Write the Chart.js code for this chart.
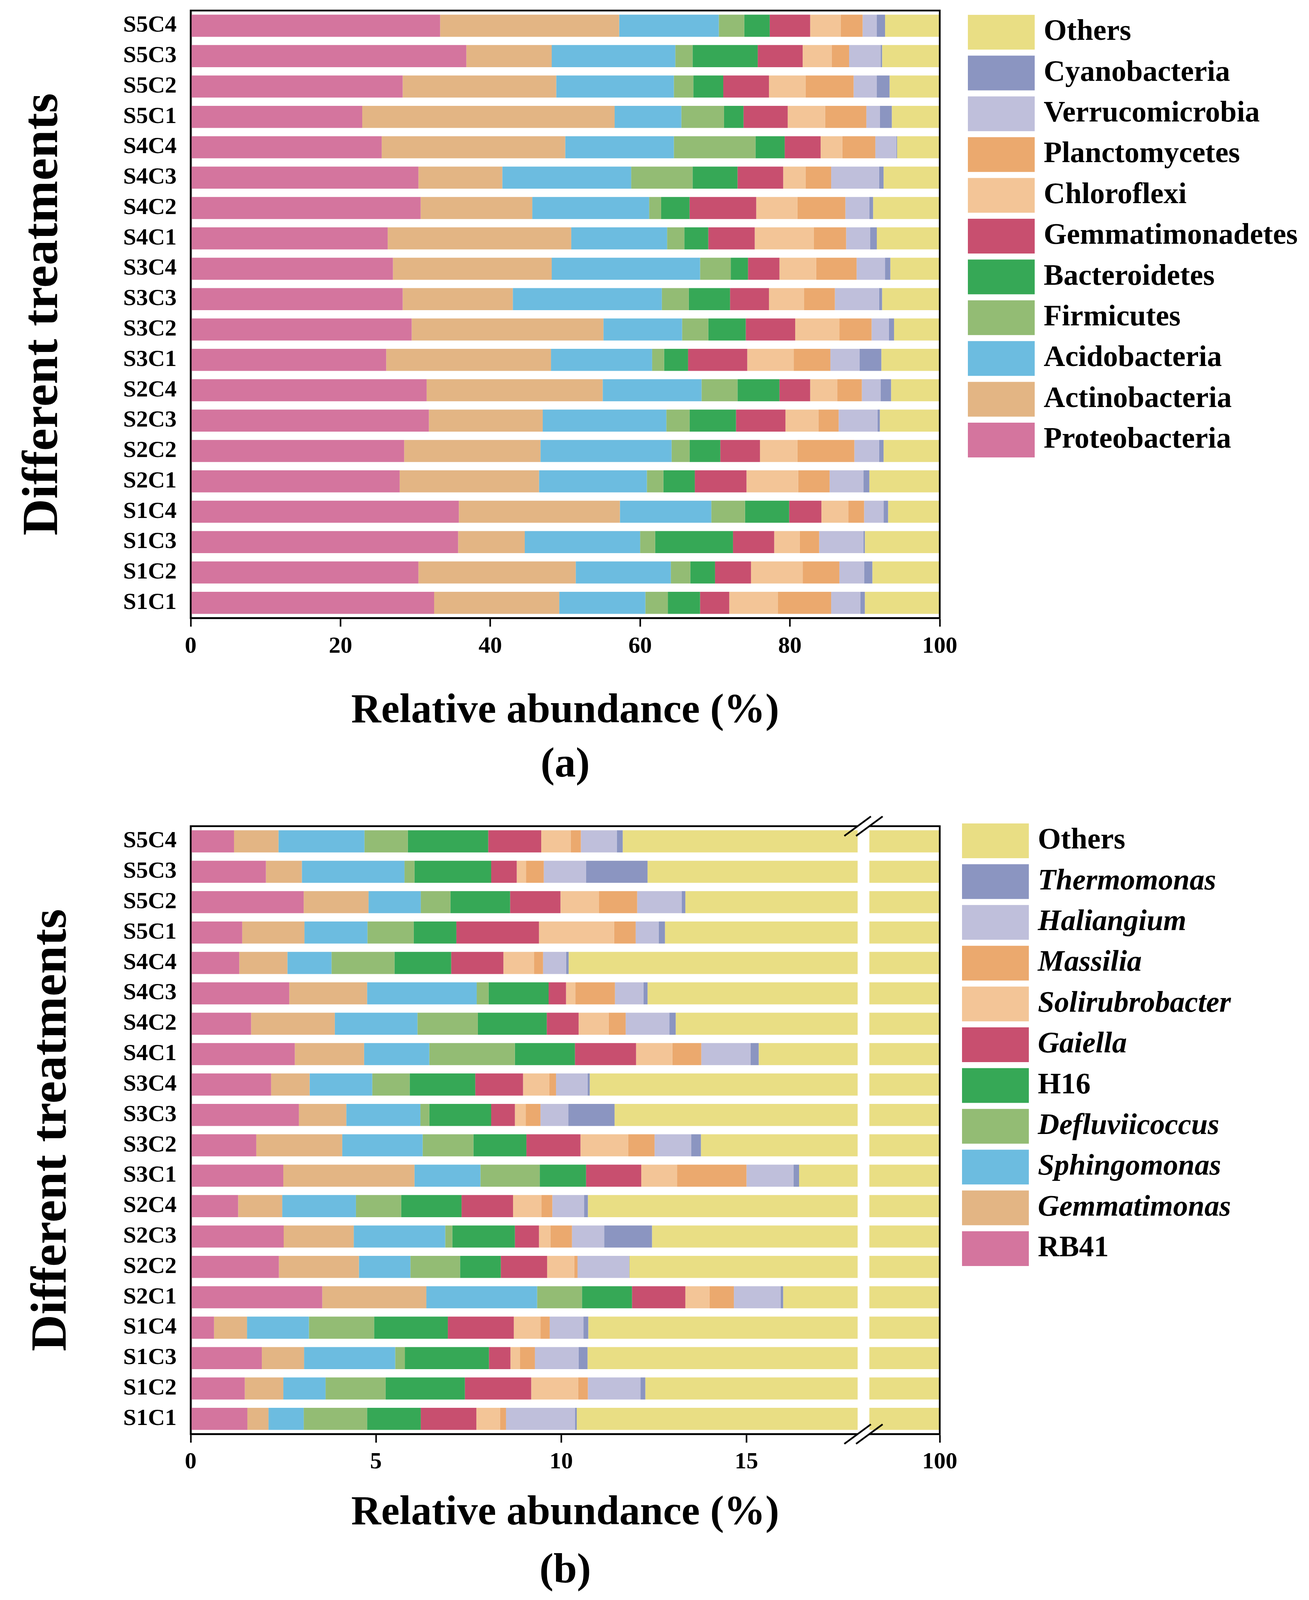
<!DOCTYPE html>
<html>
<head>
<meta charset="utf-8">
<script src="https://cdn.jsdelivr.net/npm/chart.js@4.4.1/dist/chart.umd.min.js"></script>
<style>
  html, body { margin: 0; padding: 0; background: #fff; }
  canvas { display: block; }
</style>
</head>
<body>
<canvas id="chartA" width="3350" height="2050"></canvas>
<canvas id="chartB" width="3350" height="2047"></canvas>
<script>
const treatments = ['S5C4', 'S5C3', 'S5C2', 'S5C1', 'S4C4', 'S4C3', 'S4C2', 'S4C1', 'S3C4', 'S3C3',
  'S3C2', 'S3C1', 'S2C4', 'S2C3', 'S2C2', 'S2C1', 'S1C4', 'S1C3', 'S1C2', 'S1C1'];

// (a) phylum level, relative abundance %
const proteobacteria   = [33.3, 36.8, 28.3, 22.9, 25.5, 30.4, 30.7, 26.3, 27.0, 28.3, 29.5, 26.1, 31.5, 31.8, 28.5, 27.9, 35.8, 35.7, 30.4, 32.5];
const actinobacteria   = [23.9, 11.4, 20.5, 33.7, 24.5, 11.2, 14.9, 24.5, 21.2, 14.7, 25.6, 22.0, 23.5, 15.2, 18.2, 18.6, 21.5, 8.9, 21.0, 16.7];
const acidobacteria    = [13.3, 16.5, 15.7, 8.9, 14.5, 17.2, 15.6, 12.8, 19.8, 19.9, 10.5, 13.5, 13.2, 16.5, 17.5, 14.4, 12.2, 15.4, 12.7, 11.5];
const firmicutes       = [3.4, 2.3, 2.6, 5.7, 10.9, 8.2, 1.6, 2.3, 4.1, 3.6, 3.5, 1.6, 4.8, 3.1, 2.4, 2.2, 4.5, 2.0, 2.6, 3.0];
const bacteroidetes    = [3.4, 8.7, 4.0, 2.6, 3.9, 6.0, 3.8, 3.2, 2.3, 5.5, 5.0, 3.2, 5.6, 6.2, 4.1, 4.2, 5.9, 10.4, 3.3, 4.3];
const gemmatimonadetes = [5.4, 6.0, 6.1, 5.9, 4.8, 6.1, 8.9, 6.2, 4.2, 5.2, 6.6, 7.9, 4.1, 6.6, 5.3, 6.9, 4.3, 5.5, 4.8, 3.9];
const chloroflexi      = [4.1, 3.9, 4.9, 5.0, 2.9, 3.0, 5.5, 7.9, 4.9, 4.7, 5.9, 6.2, 3.6, 4.4, 5.0, 6.9, 3.6, 3.4, 6.9, 6.5];
const planctomycetes   = [2.9, 2.3, 6.4, 5.5, 4.4, 3.4, 6.4, 4.3, 5.4, 4.1, 4.3, 4.9, 3.3, 2.7, 7.6, 4.2, 2.1, 2.6, 4.9, 7.1];
const verrucomicrobia  = [1.9, 4.2, 3.1, 1.8, 2.8, 6.4, 3.2, 3.2, 3.8, 5.9, 2.3, 3.9, 2.5, 5.2, 3.3, 4.5, 2.6, 5.9, 3.3, 3.9];
const cyanobacteria    = [1.1, 0.2, 1.7, 1.6, 0.1, 0.6, 0.5, 0.9, 0.7, 0.4, 0.7, 2.9, 1.4, 0.3, 0.6, 0.8, 0.6, 0.2, 1.1, 0.6];
const othersPhylum     = [7.3, 7.7, 6.7, 6.4, 5.7, 7.5, 8.9, 8.4, 6.6, 7.7, 6.1, 7.8, 6.5, 8.0, 7.5, 9.4, 6.9, 10.0, 9.0, 10.0];

// (b) genus level, relative abundance %
const rb41            = [1.17, 2.03, 3.05, 1.39, 1.31, 2.66, 1.63, 2.81, 2.17, 2.92, 1.77, 2.50, 1.28, 2.51, 2.38, 3.55, 0.63, 1.92, 1.46, 1.53];
const gemmatimonas    = [1.20, 0.97, 1.75, 1.68, 1.30, 2.10, 2.26, 1.87, 1.04, 1.28, 2.32, 3.54, 1.19, 1.89, 2.16, 2.81, 0.89, 1.14, 1.04, 0.57];
const sphingomonas    = [2.32, 2.77, 1.41, 1.70, 1.19, 2.96, 2.23, 1.76, 1.69, 2.00, 2.17, 1.78, 1.99, 2.47, 1.39, 2.99, 1.67, 2.46, 1.14, 0.95];
const defluviicoccus  = [1.17, 0.27, 0.80, 1.25, 1.70, 0.32, 1.63, 2.31, 1.01, 0.24, 1.37, 1.60, 1.22, 0.19, 1.34, 1.21, 1.76, 0.26, 1.62, 1.71];
const h16             = [2.17, 2.07, 1.61, 1.15, 1.53, 1.62, 1.86, 1.62, 1.77, 1.67, 1.43, 1.25, 1.63, 1.69, 1.10, 1.35, 1.99, 2.27, 2.14, 1.45];
const gaiella         = [1.43, 0.69, 1.36, 2.23, 1.41, 0.47, 0.86, 1.65, 1.29, 0.64, 1.46, 1.49, 1.39, 0.65, 1.25, 1.44, 1.78, 0.58, 1.79, 1.50];
const solirubrobacter = [0.80, 0.25, 1.04, 2.03, 0.83, 0.25, 0.81, 0.98, 0.71, 0.29, 1.29, 0.97, 0.77, 0.31, 0.73, 0.65, 0.72, 0.26, 1.27, 0.64];
const massilia        = [0.27, 0.48, 1.03, 0.58, 0.24, 1.07, 0.46, 0.78, 0.18, 0.40, 0.71, 1.87, 0.29, 0.58, 0.09, 0.66, 0.25, 0.40, 0.26, 0.16];
const haliangium      = [0.97, 1.14, 1.20, 0.62, 0.62, 0.77, 1.18, 1.33, 0.85, 0.75, 0.99, 1.27, 0.86, 0.87, 1.39, 1.26, 0.91, 1.18, 1.42, 1.86];
const thermomonas     = [0.16, 1.66, 0.10, 0.17, 0.07, 0.11, 0.17, 0.22, 0.06, 1.25, 0.26, 0.15, 0.10, 1.29, 0.01, 0.07, 0.13, 0.24, 0.13, 0.05];
const othersGenus     = [88.35, 87.67, 86.66, 87.19, 89.80, 87.66, 86.91, 84.68, 89.24, 88.56, 86.22, 83.58, 89.28, 87.55, 88.16, 84.00, 89.27, 89.28, 87.73, 89.58];

const phylumNames = ['Proteobacteria', 'Actinobacteria', 'Acidobacteria', 'Firmicutes', 'Bacteroidetes',
  'Gemmatimonadetes', 'Chloroflexi', 'Planctomycetes', 'Verrucomicrobia', 'Cyanobacteria', 'Others'];
const phylumSeries = [proteobacteria, actinobacteria, acidobacteria, firmicutes, bacteroidetes,
  gemmatimonadetes, chloroflexi, planctomycetes, verrucomicrobia, cyanobacteria, othersPhylum];
const genusNames = ['RB41', 'Gemmatimonas', 'Sphingomonas', 'Defluviicoccus', 'H16',
  'Gaiella', 'Solirubrobacter', 'Massilia', 'Haliangium', 'Thermomonas', 'Others'];
const genusSeries = [rb41, gemmatimonas, sphingomonas, defluviicoccus, h16,
  gaiella, solirubrobacter, massilia, haliangium, thermomonas, othersGenus];

const phylumTicks = [0, 20, 40, 60, 80, 100];
const genusTicks = [0, 5, 10, 15, 100];

const colors = ['#D4759E', '#E3B584', '#6CBCE0', '#93BC74', '#36A856', '#C84F6F',
  '#F3C597', '#EBA96E', '#BFBFDB', '#8B95C1', '#E9DE84'];
const italicNames = new Set(['Gemmatimonas', 'Sphingomonas', 'Defluviicoccus', 'Gaiella',
  'Solirubrobacter', 'Massilia', 'Haliangium', 'Thermomonas']);

const FONT = '"Liberation Serif", "Times New Roman", serif';
Chart.defaults.font.family = FONT;
Chart.defaults.font.weight = 'bold';
Chart.defaults.color = '#000';

// linear axis with a cut between breakRange[0] and breakRange[1]
class BrokenLinearScale extends Chart.LinearScale {
  static id = 'brokenLinear';
  _toDecimal(v) {
    const [b0, b1] = this.options.breakRange;
    const g = this.options.breakGap / this._length;
    const lo = b0 - this.min, span = lo + (this.max - b1);
    const d = v - this.min;
    if (v <= b0) return d / span * (1 - g);
    if (v >= b1) return (lo + v - b1) / span * (1 - g) + g;
    return lo / span * (1 - g) + (v - b0) / (b1 - b0) * g;
  }
  getPixelForValue(value) {
    if (value === null || value === undefined || isNaN(value)) return NaN;
    return this.getPixelForDecimal(this._toDecimal(value));
  }
  getValueForPixel(pixel) {
    const [b0, b1] = this.options.breakRange;
    const g = this.options.breakGap / this._length;
    const lo = b0 - this.min, span = lo + (this.max - b1);
    const dec = this.getDecimalForPixel(pixel);
    const d0 = lo / span * (1 - g);
    if (dec <= d0) return this.min + dec / (1 - g) * span;
    if (dec >= d0 + g) return b1 + (dec - g) / (1 - g) * span - lo;
    return b0 + (dec - d0) / g * (b1 - b0);
  }
}
Chart.register(BrokenLinearScale);

const framePlugin = {
  id: 'frame',
  afterDatasetsDraw(chart, args, opts) {
    const { ctx, chartArea: a } = chart;
    ctx.save();
    ctx.strokeStyle = '#000';
    ctx.lineWidth = opts.width;
    ctx.strokeRect(a.left, a.top, a.right - a.left, a.bottom - a.top);
    if (opts.cut) {
      const xs = chart.scales.x;
      const x0 = xs.getPixelForValue(opts.cut[0]);
      const x1 = xs.getPixelForValue(opts.cut[1]);
      ctx.fillStyle = '#fff';
      ctx.fillRect(x0, a.top - opts.width, x1 - x0, a.bottom - a.top + 2 * opts.width);
      for (const y of [a.top, a.bottom]) {
        for (const cx of [x0, x1]) {
          ctx.beginPath();
          ctx.moveTo(cx - 34, y + 25);
          ctx.lineTo(cx + 34, y - 25);
          ctx.stroke();
        }
      }
    }
    ctx.restore();
  }
};

const boxLegend = {
  id: 'boxLegend',
  afterDraw(chart, args, opts) {
    const ctx = chart.ctx;
    const items = chart.data.datasets.slice().reverse();
    ctx.save();
    ctx.textBaseline = 'middle';
    items.forEach((ds, i) => {
      const top = opts.top + i * opts.pitch;
      ctx.fillStyle = ds.backgroundColor;
      ctx.fillRect(opts.left, top, opts.boxWidth, opts.boxHeight);
      ctx.fillStyle = '#000';
      ctx.font = (ds.italic ? 'italic ' : '') + 'bold ' + opts.fontSize + 'px ' + FONT;
      ctx.fillText(ds.label, opts.textLeft, top + opts.boxHeight / 2);
    });
    ctx.restore();
  }
};

function buildDatasets(names, series) {
  return names.map((name, i) => ({
    label: name,
    data: series[i],
    backgroundColor: colors[i],
    italic: italicNames.has(name),
    barPercentage: 0.727,
    categoryPercentage: 1
  }));
}

function drawPanel(id, p) {
  const xScale = {
    type: p.xType,
    stacked: true,
    min: 0,
    max: 100,
    afterBuildTicks: s => { s.ticks = p.ticks.map(value => ({ value })); },
    ticks: { font: { size: 60 }, padding: p.tickPad, autoSkip: false, maxRotation: 0, callback: v => v },
    grid: { display: true, drawOnChartArea: false, drawTicks: true, tickLength: 22, tickWidth: 4, tickColor: '#000' },
    border: { display: true, width: 4.5, color: '#000' },
    title: { display: true, text: 'Relative abundance (%)', font: { size: 106 }, padding: { top: p.xTitlePad, bottom: 0 } }
  };
  if (p.cut) {
    xScale.breakRange = p.cut;
    xScale.breakGap = 30;
  }
  return new Chart(document.getElementById(id), {
    type: 'bar',
    data: { labels: treatments, datasets: p.datasets },
    plugins: [framePlugin, boxLegend],
    options: {
      indexAxis: 'y',
      responsive: false,
      animation: false,
      devicePixelRatio: 1,
      layout: { padding: { top: p.top, right: 945, bottom: p.bottom, left: 0 } },
      plugins: {
        legend: { display: false },
        tooltip: { enabled: false },
        subtitle: {
          display: true, text: p.tag, position: 'bottom', fullSize: false, color: '#000',
          font: { size: 108, weight: 'bold' }, padding: { top: p.tagPad, bottom: 0 }
        },
        frame: { width: 4.5, cut: p.cut },
        boxLegend: { left: p.legendLeft, textLeft: p.legendLeft + 194, top: p.legendTop, pitch: 104.4, boxWidth: 171, boxHeight: 89, fontSize: 76 }
      },
      scales: {
        x: xScale,
        y: {
          stacked: true,
          afterFit: s => { s.width = 488; s.paddingTop = 0; s.paddingBottom = 0; },
          grid: { display: false },
          border: { display: true, width: 4.5, color: '#000' },
          ticks: { font: { size: 60 }, padding: 28, autoSkip: false },
          title: { display: true, text: 'Different treatments', font: { size: 130 }, padding: { top: p.yTitlePad, bottom: 0 } }
        }
      }
    }
  });
}

drawPanel('chartA', {
  datasets: buildDatasets(phylumNames, phylumSeries),
  xType: 'linear', ticks: phylumTicks, tag: '(a)',
  top: 27, bottom: 25, tickPad: 15, xTitlePad: 52, tagPad: 10, yTitlePad: 34,
  legendLeft: 2477, legendTop: 38
});

drawPanel('chartB', {
  datasets: buildDatasets(genusNames, genusSeries),
  xType: 'brokenLinear', ticks: genusTicks, cut: [18, 98.1], tag: '(b)',
  top: 65, bottom: 9, tickPad: 14, xTitlePad: 18, tagPad: 20, yTitlePad: 56,
  legendLeft: 2462, legendTop: 58
});
</script>
</body>
</html>
